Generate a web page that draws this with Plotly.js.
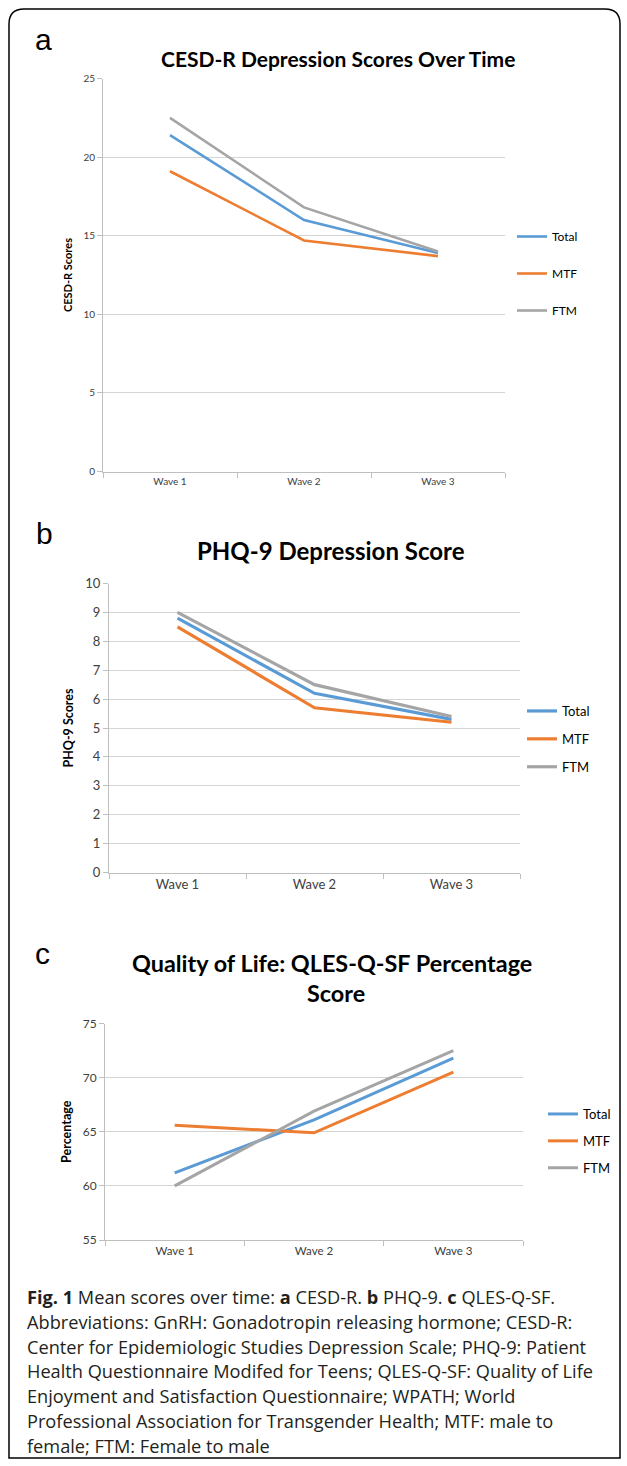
<!DOCTYPE html>
<html>
<head>
<meta charset="utf-8">
<script src="https://cdn.plot.ly/plotly-3.0.1.min.js"></script>
<style>html,body{margin:0;padding:0;background:#fff;}#chart{width:627px;height:1466px;}</style>
</head>
<body>
<div id="chart"></div>
<script>
// ---- data ----
var waves = ['Wave 1', 'Wave 2', 'Wave 3'];
var seriesNames = ['Total', 'MTF', 'FTM'];
var cesdTotal = [21.4, 16.0, 13.9];
var cesdMTF = [19.1, 14.7, 13.7];
var cesdFTM = [22.5, 16.8, 14.0];
var phqTotal = [8.8, 6.2, 5.3];
var phqMTF = [8.5, 5.7, 5.2];
var phqFTM = [9.0, 6.5, 5.4];
var qlesTotal = [61.2, 66.1, 71.8];
var qlesMTF = [65.6, 64.9, 70.5];
var qlesFTM = [60.0, 66.9, 72.5];
var captionLines = [
  '<b>Fig. 1</b> Mean scores over time: <b>a</b> CESD-R. <b>b</b> PHQ-9. <b>c</b> QLES-Q-SF.',
  'Abbreviations: GnRH: Gonadotropin releasing hormone; CESD-R:',
  'Center for Epidemiologic Studies Depression Scale; PHQ-9: Patient',
  'Health Questionnaire Modifed for Teens; QLES-Q-SF: Quality of Life',
  'Enjoyment and Satisfaction Questionnaire; WPATH; World',
  'Professional Association for Transgender Health; MTF: male to',
  'female; FTM: Female to male'
];

// ---- layout helpers ----
var W = 627, H = 1466;
function px(x) { return x / W; }
function py(y) { return 1 - y / H; }
var colors = ['#5B9BD5', '#ED7D31', '#A5A5A5'];
var FONT = 'Lato, Carlito, Calibri, sans-serif';
var gridC = '#D4D4D4', axC = '#BFBFBF', tickFontC = '#404040';

var panels = [
  {vals: [cesdTotal, cesdMTF, cesdFTM], xa: 'x', ya: 'y', lg: 'legend', lw: 2.6},
  {vals: [phqTotal, phqMTF, phqFTM], xa: 'x2', ya: 'y2', lg: 'legend2', lw: 3.2},
  {vals: [qlesTotal, qlesMTF, qlesFTM], xa: 'x3', ya: 'y3', lg: 'legend3', lw: 3}
];
var traces = [];
panels.forEach(function (p, pi) {
  p.vals.forEach(function (v, si) {
    traces.push({
      type: 'scatter', mode: 'lines', x: waves, y: v, name: seriesNames[si],
      xaxis: p.xa, yaxis: p.ya, legend: p.lg, legendgroup: 'g' + pi + si,
      line: {color: colors[si], width: p.lw}, hoverinfo: 'skip'
    });
  });
});

function xAxis(d, fs, anchor) {
  return {domain: d, anchor: anchor, type: 'category', range: [-0.5, 2.5], showgrid: false,
    showline: true, linecolor: axC, linewidth: 1, ticks: 'outside', tickson: 'boundaries',
    ticklen: 5, tickcolor: axC, tickfont: {family: FONT, size: fs, color: tickFontC}, fixedrange: true};
}
function yAxis(d, range, dtick, fs, title, tfs, anchor) {
  return {domain: d, anchor: anchor, range: range, dtick: dtick, showgrid: true, gridcolor: gridC,
    showline: true, linecolor: axC, linewidth: 1, ticks: 'outside', ticklen: 5, tickcolor: axC,
    zeroline: false, tickfont: {family: FONT, size: fs, color: tickFontC},
    title: {text: '<b>' + title + '</b>', font: {family: FONT, size: tfs, color: '#000'}, standoff: 8},
    fixedrange: true};
}
function legend(x, y, fs, gap) {
  return {x: x, y: y, xanchor: 'left', yanchor: 'top', bgcolor: 'rgba(0,0,0,0)', borderwidth: 0,
    font: {family: FONT, size: fs, color: '#000'}, traceorder: 'grouped', tracegroupgap: gap,
    itemwidth: 30};
}

var annotations = [];
function txt(x, y, text, size, opts) {
  var a = {xref: 'paper', yref: 'paper', x: px(x), y: py(y), text: text, showarrow: false,
    xanchor: 'center', yanchor: 'middle', font: {family: FONT, size: size, color: '#000'}};
  for (var k in opts) a[k] = opts[k];
  annotations.push(a);
}
// panel letters
txt(43, 40, 'a', 30, {font: {family: 'Liberation Sans, Arial, sans-serif', size: 30, color: '#000'}});
txt(44, 533, 'b', 30, {font: {family: 'Liberation Sans, Arial, sans-serif', size: 30, color: '#000'}});
txt(42, 953, 'c', 30, {font: {family: 'Liberation Sans, Arial, sans-serif', size: 30, color: '#000'}});
// titles
txt(338, 59, '<b>CESD-R Depression Scores Over Time</b>', 21);
txt(331, 550, '<b>PHQ-9 Depression Score</b>', 24);
txt(332, 963, '<b>Quality of Life: QLES-Q-SF Percentage</b>', 23.4);
txt(336, 993, '<b>Score</b>', 23.4);
// caption
captionLines.forEach(function (l, i) {
  txt(25, 1297 + i * 24.8, l, 18.2, {xanchor: 'left',
    font: {family: 'Open Sans, Noto Sans, sans-serif', size: 18.2, color: '#231F20'}});
});

var layout = {
  width: W, height: H, margin: {l: 0, r: 0, t: 0, b: 0}, paper_bgcolor: '#fff', plot_bgcolor: '#fff',
  showlegend: true,
  xaxis: xAxis([px(103), px(505)], 10, 'y'),
  yaxis: yAxis([py(471.5), py(78.5)], [0, 25], 5, 10, 'CESD-R Scores', 11, 'x'),
  xaxis2: xAxis([px(109), px(520)], 13, 'y2'),
  yaxis2: yAxis([py(872.5), py(583.5)], [0, 10], 1, 13, 'PHQ-9 Scores', 12.5, 'x2'),
  xaxis3: xAxis([px(105), px(523)], 11.5, 'y3'),
  yaxis3: yAxis([py(1240), py(1023.5)], [55, 75], 5, 12, 'Percentage', 12.5, 'x3'),
  legend: legend(px(512), py(222), 12, 18),
  legend2: legend(px(522), py(696), 13, 8),
  legend3: legend(px(543), py(1099), 13, 7),
  annotations: annotations,
  shapes: [{
    type: 'path', xref: 'paper', yref: 'paper', line: {color: '#000', width: 1.5},
    path: 'M ' + px(9) + ' ' + py(24) + ' L ' + px(9) + ' ' + py(1458) +
      ' L ' + px(620) + ' ' + py(1458) + ' L ' + px(620) + ' ' + py(24) +
      ' Q ' + px(620) + ' ' + py(9) + ' ' + px(605) + ' ' + py(9) +
      ' L ' + px(24) + ' ' + py(9) + ' Q ' + px(9) + ' ' + py(9) + ' ' + px(9) + ' ' + py(24)
  }]
};

Plotly.newPlot('chart', traces, layout, {displayModeBar: false, staticPlot: true});
</script>
</body>
</html>
